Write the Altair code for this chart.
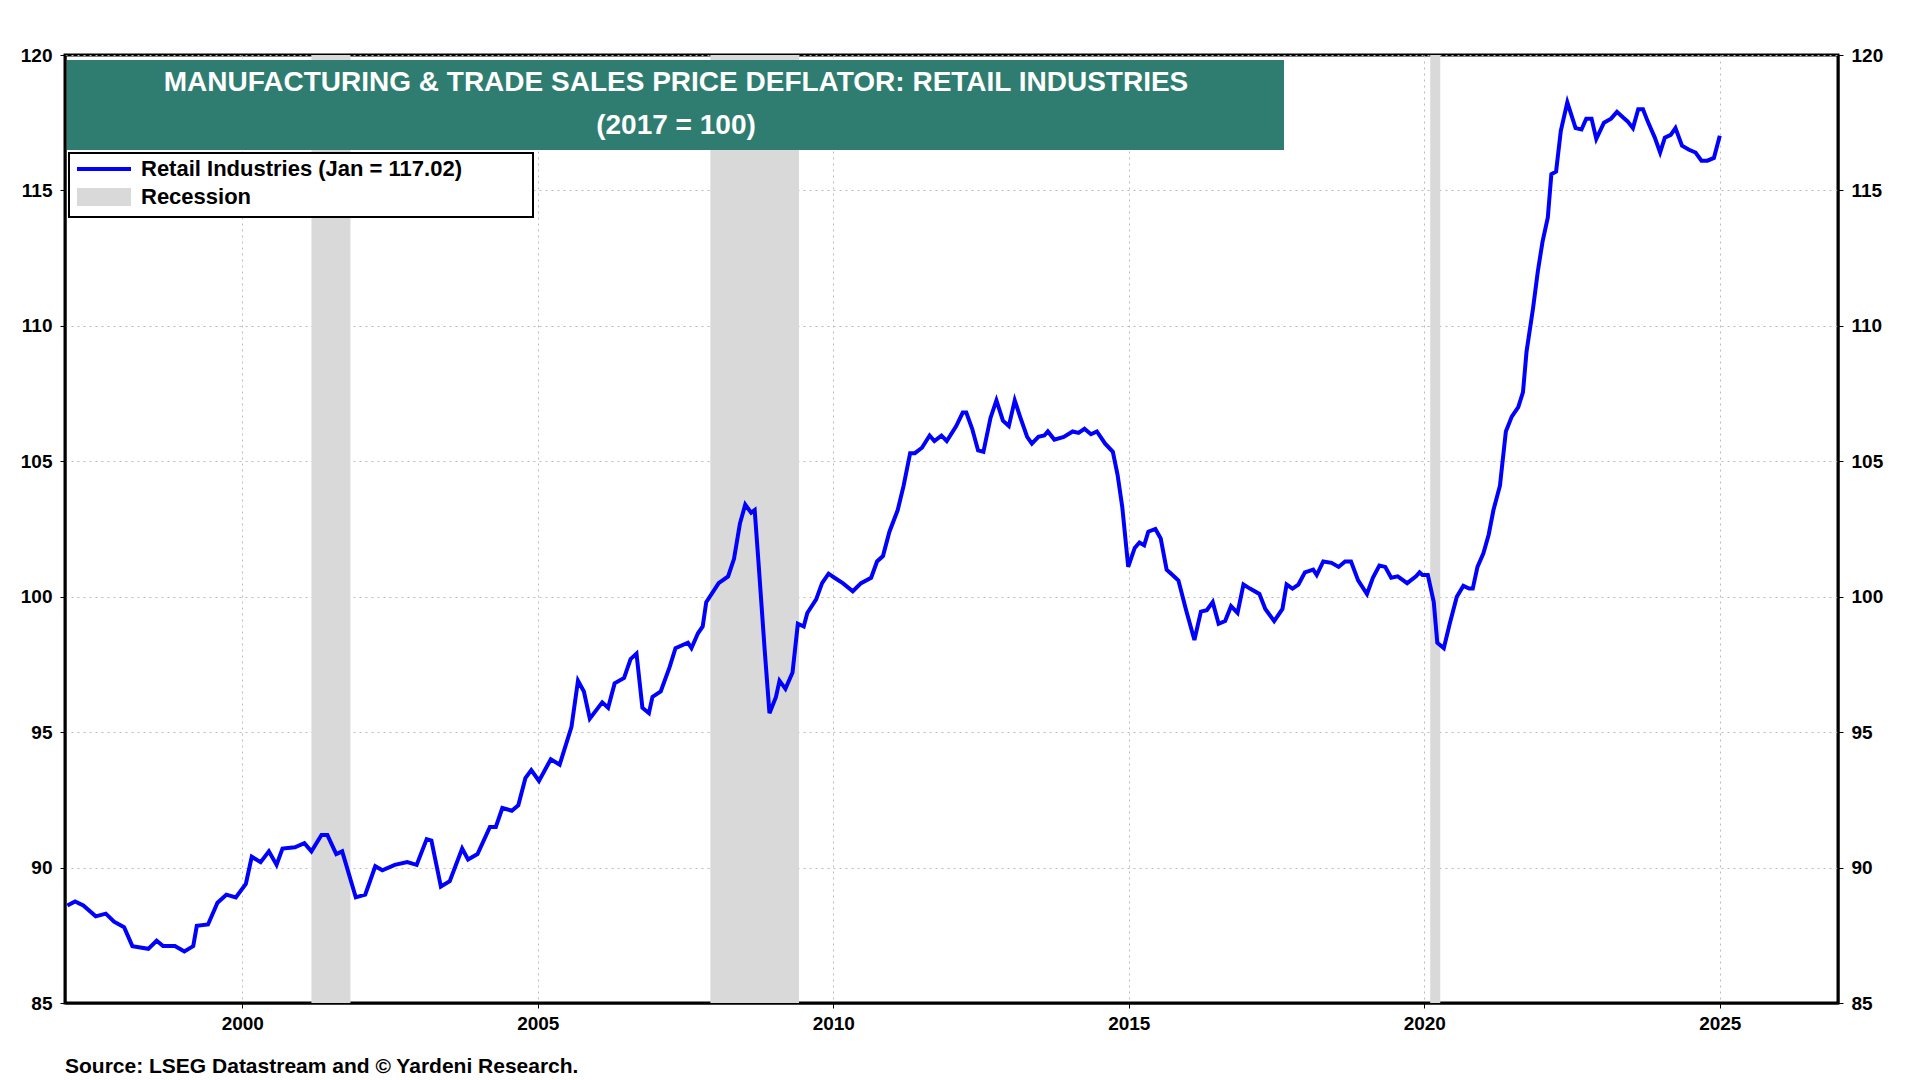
import altair as alt
import pandas as pd

# fractional year, index value (2017 = 100)
years = [
    1997.04, 1997.17, 1997.31, 1997.52, 1997.69, 1997.83, 1998.0, 1998.14, 1998.41, 1998.55,
    1998.66, 1998.86, 1999.02, 1999.17, 1999.23, 1999.42, 1999.58, 1999.73, 1999.89, 2000.06,
    2000.16, 2000.31, 2000.45, 2000.58, 2000.68, 2000.89, 2001.05, 2001.17, 2001.34, 2001.44,
    2001.59, 2001.69, 2001.92, 2002.08, 2002.25, 2002.37, 2002.58, 2002.79, 2002.95, 2003.12,
    2003.2, 2003.36, 2003.51, 2003.72, 2003.82, 2003.98, 2004.19, 2004.29, 2004.4, 2004.56,
    2004.67, 2004.79, 2004.89, 2005.02, 2005.22, 2005.37, 2005.57, 2005.68, 2005.78, 2005.88,
    2006.09, 2006.19, 2006.3, 2006.46, 2006.57, 2006.67, 2006.77, 2006.88, 2006.94, 2007.08,
    2007.23, 2007.33, 2007.54, 2007.6, 2007.71, 2007.79, 2007.85, 2008.06, 2008.22, 2008.32,
    2008.42, 2008.51, 2008.61, 2008.67, 2008.73, 2008.84, 2008.92, 2009.03, 2009.09, 2009.19,
    2009.31, 2009.4, 2009.5, 2009.56, 2009.71, 2009.81, 2009.92, 2010.02, 2010.16, 2010.33,
    2010.47, 2010.64, 2010.74, 2010.84, 2010.95, 2011.09, 2011.19, 2011.3, 2011.38, 2011.5,
    2011.63, 2011.71, 2011.83, 2011.92, 2012.08, 2012.19, 2012.25, 2012.35, 2012.45, 2012.54,
    2012.66, 2012.76, 2012.87, 2012.97, 2013.07, 2013.16, 2013.28, 2013.36, 2013.47, 2013.57,
    2013.63, 2013.74, 2013.9, 2014.05, 2014.15, 2014.25, 2014.36, 2014.46, 2014.6, 2014.73,
    2014.81, 2014.89, 2014.99, 2015.1, 2015.18, 2015.26, 2015.33, 2015.45, 2015.54, 2015.64,
    2015.74, 2015.84, 2015.97, 2016.11, 2016.22, 2016.32, 2016.42, 2016.52, 2016.63, 2016.73,
    2016.84, 2016.94, 2017.05, 2017.21, 2017.31, 2017.46, 2017.6, 2017.67, 2017.77, 2017.87,
    2017.98, 2018.12, 2018.18, 2018.29, 2018.43, 2018.55, 2018.66, 2018.76, 2018.88, 2019.03,
    2019.13, 2019.24, 2019.34, 2019.44, 2019.55, 2019.71, 2019.86, 2019.92, 2019.97, 2020.06,
    2020.16, 2020.22, 2020.33, 2020.43, 2020.55, 2020.66, 2020.76, 2020.82, 2020.9, 2021.0,
    2021.09, 2021.17, 2021.28, 2021.38, 2021.48, 2021.59, 2021.67, 2021.73, 2021.84, 2021.92,
    2022.0, 2022.09, 2022.15, 2022.23, 2022.31, 2022.42, 2022.56, 2022.66, 2022.74, 2022.83,
    2022.91, 2023.04, 2023.16, 2023.26, 2023.36, 2023.44, 2023.53, 2023.62, 2023.7, 2023.78,
    2023.9, 2023.99, 2024.07, 2024.17, 2024.25, 2024.36, 2024.48, 2024.59, 2024.69, 2024.79,
    2024.9, 2025.0,
]
values = [
    88.6, 88.75, 88.6, 88.2, 88.3, 88.0, 87.8, 87.1, 87.0, 87.3,
    87.1, 87.1, 86.9, 87.1, 87.85, 87.9, 88.7, 89.0, 88.9, 89.4,
    90.4, 90.2, 90.6, 90.1, 90.7, 90.75, 90.9, 90.6, 91.2, 91.2,
    90.5, 90.6, 88.9, 89.0, 90.05, 89.9, 90.1, 90.2, 90.1, 91.05,
    91.0, 89.3, 89.5, 90.7, 90.3, 90.5, 91.5, 91.5, 92.2, 92.1,
    92.3, 93.3, 93.6, 93.2, 94.0, 93.8, 95.2, 96.9, 96.5, 95.5,
    96.1, 95.9, 96.8, 97.0, 97.7, 97.9, 95.9, 95.7, 96.3, 96.5,
    97.4, 98.1, 98.3, 98.1, 98.65, 98.9, 99.8, 100.5, 100.75, 101.4,
    102.7, 103.4, 103.1, 103.2, 101.4, 98.0, 95.7, 96.3, 96.9, 96.6,
    97.2, 99.0, 98.9, 99.4, 99.9, 100.5, 100.85, 100.7, 100.5, 100.2,
    100.5, 100.7, 101.3, 101.5, 102.4, 103.2, 104.1, 105.3, 105.3, 105.5,
    105.95, 105.75, 105.95, 105.75, 106.3, 106.8, 106.8, 106.2, 105.4, 105.35,
    106.6, 107.25, 106.5, 106.3, 107.25, 106.65, 105.9, 105.65, 105.9, 105.95,
    106.1, 105.8, 105.9, 106.1, 106.05, 106.2, 106.0, 106.1, 105.65, 105.35,
    104.5, 103.3, 101.1, 101.8, 102.0, 101.9, 102.4, 102.5, 102.15, 101.0,
    100.8, 100.6, 99.5, 98.4, 99.45, 99.5, 99.8, 99.0, 99.1, 99.65,
    99.4, 100.45, 100.3, 100.1, 99.55, 99.1, 99.55, 100.45, 100.3, 100.45,
    100.9, 101.0, 100.8, 101.3, 101.25, 101.1, 101.3, 101.3, 100.6, 100.1,
    100.7, 101.15, 101.1, 100.7, 100.75, 100.5, 100.75, 100.9, 100.8, 100.8,
    99.8, 98.3, 98.1, 99.0, 100.0, 100.4, 100.3, 100.3, 101.1, 101.6,
    102.3, 103.2, 104.1, 106.1, 106.65, 107.0, 107.55, 109.05, 110.65, 112.0,
    113.1, 114.0, 115.6, 115.7, 117.2, 118.25, 117.3, 117.25, 117.65, 117.65,
    116.9, 117.5, 117.65, 117.9, 117.7, 117.55, 117.3, 118.0, 118.0, 117.55,
    116.95, 116.4, 116.95, 117.05, 117.3, 116.65, 116.5, 116.4, 116.1, 116.1,
    116.2, 117.02,
]

rec_start = [2001.17, 2007.92, 2020.1]
rec_end = [2001.83, 2009.42, 2020.27]

FONT = "Liberation Sans"
BLUE = "#0000ff"
GREEN = "#2e7d70"
W, H = 1773, 948

series = pd.DataFrame({"year": years, "value": values})
recessions = pd.DataFrame({"start": rec_start, "end": rec_end})
one = series.head(1)

x_scale = alt.Scale(domain=[1997, 2027], nice=False, zero=False)
y_scale = alt.Scale(domain=[85, 120], nice=False, zero=False)
x_axis = alt.Axis(values=[2000, 2005, 2010, 2015, 2020, 2025], format="d", title=None,
                  grid=True, gridDash=[2, 4], gridColor="#bbbbbb", tickColor="black",
                  labelFontWeight="bold", labelFontSize=19, labelColor="black", labelPadding=6)


def y_axis(orient):
    return alt.Axis(values=[85, 90, 95, 100, 105, 110, 115, 120], title=None, orient=orient,
                    grid=orient == "left", gridDash=[2, 4], gridColor="#bbbbbb", tickColor="black",
                    labelFontWeight="bold", labelFontSize=19, labelColor="black", labelPadding=8)


shade = alt.Chart(recessions).mark_rect(color="#d9d9d9").encode(
    x=alt.X("start:Q", scale=x_scale, axis=x_axis), x2="end:Q",
    y=alt.value(0), y2=alt.value(H),
)

line = alt.Chart(series).mark_line(color=BLUE, strokeWidth=4).encode(
    x=alt.X("year:Q", scale=x_scale, axis=x_axis),
    y=alt.Y("value:Q", scale=y_scale, axis=y_axis("left")),
)

right = alt.Chart(series).mark_line(opacity=0).encode(
    x=alt.X("year:Q", scale=x_scale),
    y=alt.Y("value:Q", scale=y_scale, axis=y_axis("right")),
)

title_box = alt.Chart(one).mark_rect(color=GREEN).encode(
    x=alt.value(2), x2=alt.value(1219), y=alt.value(5), y2=alt.value(95))
title1 = alt.Chart(one).mark_text(
    text="MANUFACTURING & TRADE SALES PRICE DEFLATOR: RETAIL INDUSTRIES",
    color="white", fontWeight="bold", fontSize=28, font=FONT).encode(
    x=alt.value(611), y=alt.value(28))
title2 = alt.Chart(one).mark_text(
    text="(2017 = 100)", color="white", fontWeight="bold", fontSize=28, font=FONT).encode(
    x=alt.value(611), y=alt.value(71))

leg_box = alt.Chart(one).mark_rect(fill="white", stroke="black", strokeWidth=2).encode(
    x=alt.value(4), x2=alt.value(468), y=alt.value(98), y2=alt.value(162))
leg_line = alt.Chart(one).mark_rule(color=BLUE, strokeWidth=4).encode(
    x=alt.value(12), x2=alt.value(66), y=alt.value(114))
leg_rec = alt.Chart(one).mark_rect(color="#d9d9d9").encode(
    x=alt.value(12), x2=alt.value(66), y=alt.value(133), y2=alt.value(151))
leg_t1 = alt.Chart(one).mark_text(
    text="Retail Industries (Jan = 117.02)", align="left", fontWeight="bold", fontSize=22,
    font=FONT, color="black").encode(x=alt.value(76), y=alt.value(114))
leg_t2 = alt.Chart(one).mark_text(
    text="Recession", align="left", fontWeight="bold", fontSize=22,
    font=FONT, color="black").encode(x=alt.value(76), y=alt.value(142))

source = alt.Chart(one).mark_text(
    text="Source: LSEG Datastream and © Yardeni Research.", align="left", fontWeight="bold",
    fontSize=21, font=FONT, color="black").encode(x=alt.value(0), y=alt.value(1012))

chart = (
    alt.layer(shade, line, right, title_box, title1, title2, leg_box, leg_line, leg_rec,
              leg_t1, leg_t2, source)
    .resolve_scale(y="independent")
    .properties(width=W, height=H, background="white",
                padding={"left": 12, "top": 38, "right": 10, "bottom": 40})
    .configure_axis(labelFont=FONT, domainColor="black", domainWidth=2)
    .configure_view(stroke="black", strokeWidth=3)
)

chart.save("out.html", embed_options={"renderer": "svg", "actions": False})
